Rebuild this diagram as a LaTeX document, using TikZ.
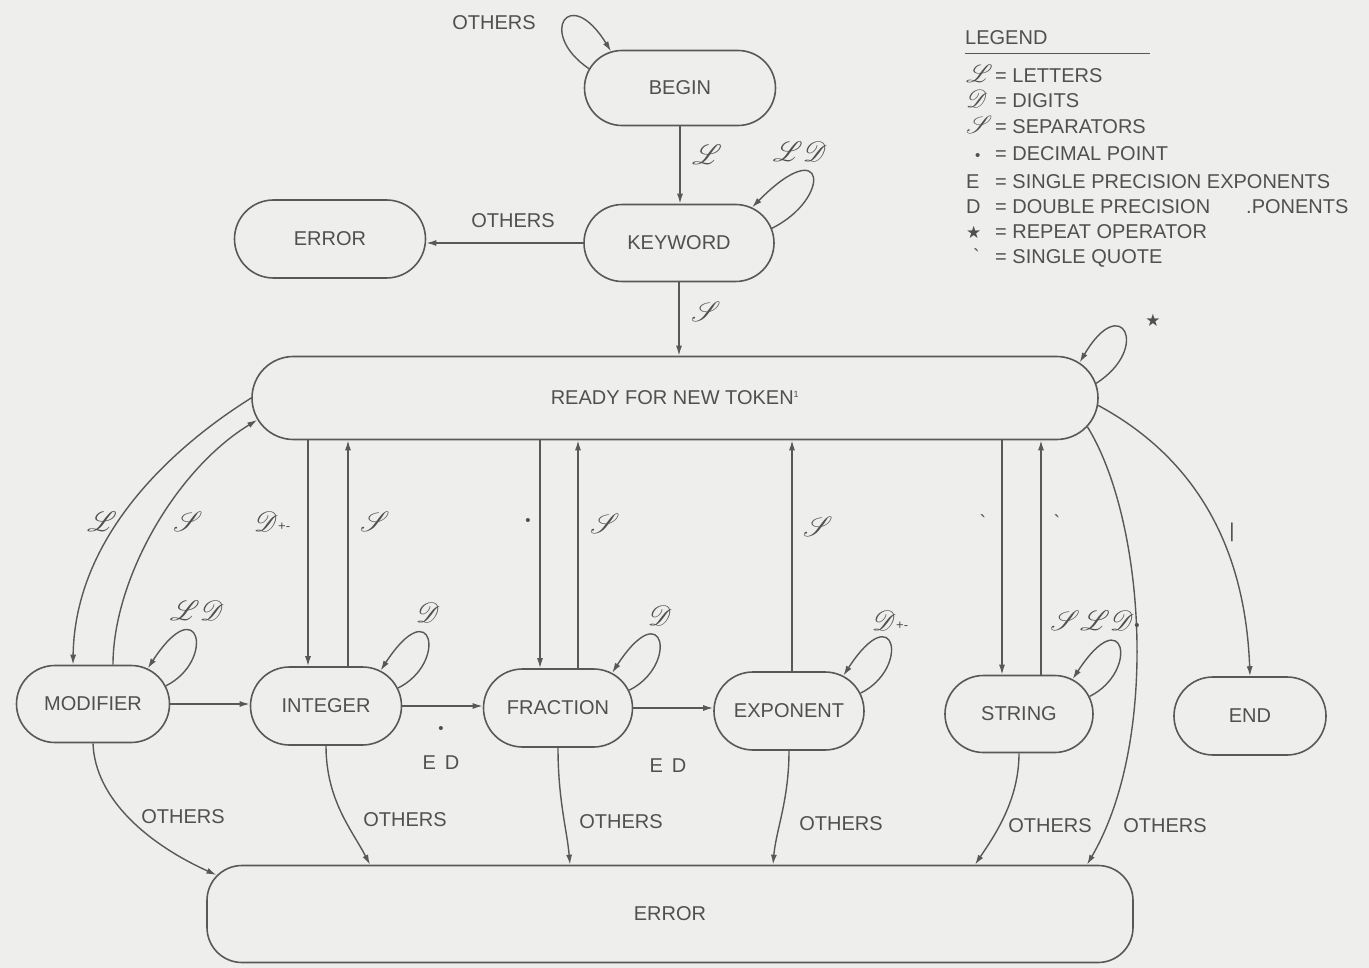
\documentclass[tikz,border=0pt]{standalone}
\usepackage{fontspec}
\setmainfont{Liberation Sans}
\newfontfamily\djv{DejaVu Sans}
\usepackage{mathrsfs}
\usepackage{graphicx}
\usetikzlibrary{shapes.misc,arrows.meta,calc}
\definecolor{bg}{HTML}{EEEEEC}
\definecolor{ink}{HTML}{585858}
\definecolor{txt}{HTML}{505050}
\newcommand\lbl{\fontsize{20}{24}\selectfont}
\newcommand\scrL{\scalebox{1.35}{$\mathscr{L}$}}
\newcommand\scrD{\scalebox{1.35}{$\mathscr{D}$}}
\newcommand\scrS{\scalebox{1.35}{$\mathscr{S}$}}
\newcommand\lgs[1]{\smash{\scalebox{1.2}{$\mathscr{#1}$}}}
\newcommand\plmi{\raisebox{1pt}{\fontsize{13}{13}\selectfont +-}}
\newcommand\dotb{{\fontsize{15}{15}\selectfont\textbullet}}
\begin{document}
\begin{tikzpicture}[x=1pt,y=-1pt,
  st/.style={rounded rectangle, draw=ink, line width=1.6pt, minimum height=77pt, inner sep=2pt, text=txt, font=\lbl},
  edge/.style={draw=ink, line width=1.4pt, -{Latex[length=10pt,width=6pt]}},
  lab/.style={text=txt, font=\lbl, inner sep=1pt},
  lgitem/.style={lab, anchor=west, inner sep=0pt},
]
\fill[bg] (0,0) rectangle (1369,968);
\useasboundingbox (0,0) rectangle (1369,968);

% states
\node[st, minimum width=195pt, minimum height=75pt] (begin) at (680,88) {BEGIN};
\node[st, minimum width=194pt] (keyword) at (679,243) {KEYWORD};
\node[st, minimum width=195pt, minimum height=78pt] (err1) at (330,239) {ERROR};
\node[st, minimum width=850pt, minimum height=83pt] (ready) at (675,398) {READY FOR NEW TOKEN\textsuperscript{\fontsize{9}{9}\selectfont 1}};
\node[st, minimum width=157pt] (modifier) at (93,704) {MODIFIER};
\node[st, minimum width=155pt, minimum height=78pt] (integer) at (326,706) {INTEGER};
\node[st, minimum width=153pt, minimum height=78pt] (fraction) at (558,708) {FRACTION};
\node[st, minimum width=154pt, minimum height=78pt] (exponent) at (789,711) {EXPONENT};
\node[st, minimum width=152pt] (string) at (1019,714) {STRING};
\node[st, minimum width=156pt, minimum height=78pt] (end) at (1250,716) {END};
\node[draw=ink, line width=1.6pt, rectangle, rounded corners=35pt, minimum width=926pt, minimum height=97pt, text=txt, font=\lbl] (err2) at (670,914) {ERROR};

% top part
\draw[edge] (begin.south) -- (begin.south |- keyword.north);
\draw[edge] (keyword.west) -- (keyword.west -| err1.east);
\draw[edge] (keyword.south) -- (keyword.south |- ready.north);
\draw[edge] (begin.168) .. controls +(-52,-35) and +(-42,-68) .. (begin.152);
\draw[edge] (keyword.9) .. controls +(60,-30) and +(75,-76) .. (keyword.26);
\draw[edge] (ready.2) .. controls +(55,-35) and +(42,-72) .. (ready.5);

% ready <-> states
\draw[edge] (ready.west) .. controls (200,430) and (75,520) .. ([xshift=-20pt]modifier.north);
\draw[edge] ([xshift=20pt]modifier.north) .. controls (113,580) and (175,470) .. (ready.183.7);
\draw[edge] (308,0 |- ready.south) -- (308,0 |- integer.north);
\draw[edge] (348,0 |- integer.north) -- (348,0 |- ready.south);
\draw[edge] (540,0 |- ready.south) -- (540,0 |- fraction.north);
\draw[edge] (578,0 |- fraction.north) -- (578,0 |- ready.south);
\draw[edge] (792,0 |- exponent.north) -- (792,0 |- ready.south);
\draw[edge] (1002,0 |- ready.south) -- (1002,0 |- string.north);
\draw[edge] (1041,0 |- string.north) -- (1041,0 |- ready.south);
\draw[edge] (ready.-1) .. controls (1190,455) and (1245,540) .. (end.north);
\draw[edge] (ready.-4.4) .. controls (1145,520) and (1160,740) .. (1087,0 |- err2.north);

% self loops on lower states
\draw[edge] (modifier.14) .. controls +(50,-25) and +(52,-80) .. (modifier.33);
\draw[edge] (integer.14) .. controls +(50,-25) and +(52,-80) .. (integer.33);
\draw[edge] (fraction.14) .. controls +(50,-25) and +(52,-80) .. (fraction.33);
\draw[edge] (exponent.14) .. controls +(50,-25) and +(52,-80) .. (exponent.33);
\draw[edge] (string.14) .. controls +(50,-25) and +(52,-80) .. (string.33);

% horizontal chain
\draw[edge] (modifier.east) -- (modifier.east -| integer.west);
\draw[edge] (integer.east) -- (integer.east -| fraction.west);
\draw[edge] (fraction.east) -- (fraction.east -| exponent.west);

% to error
\draw[edge] (modifier.south) .. controls (95,800) and (150,845) .. ($(err2.north west)+(10.3,10.3)$);
\draw[edge] (integer.south) .. controls (326,800) and (352,830) .. (370,0 |- err2.north);
\draw[edge] (fraction.south) .. controls (558,800) and (567,830) .. (570,0 |- err2.north);
\draw[edge] (exponent.south) .. controls (789,800) and (776,830) .. (773,0 |- err2.north);
\draw[edge] (string.south) .. controls (1019,800) and (995,835) .. (975,0 |- err2.north);

% labels
\node[lab] (lbA) at (494,23) {OTHERS};
\node[lab] (lbB) at (707,155) {\scrL};
\node[lab] (lbC) at (800,152) {\scrL\scrD};
\node[lab] (lbD) at (513,221) {OTHERS};
\node[lab] (lbE) at (706,312) {\scrS};
\node[lab] (lbF) at (1153,320) {\djv\fontsize{17}{17}\selectfont ★};
\node[lab] (lbG) at (102,522) {\scrL};
\node[lab] (lbH) at (188,522) {\scrS};
\node[lab] (lbI) at (272,522) {\scrD\plmi};
\node[lab] (lbJ) at (375,522) {\scrS};
\node[lab] (lbK) at (528,522) {\dotb};
\node[lab] (lbL) at (605,524) {\scrS};
\node[lab] (lbM) at (818,527) {\scrS};
\node[lab] (lbN) at (983,522) {\textasciigrave};
\node[lab] (lbO) at (1057,522) {\textasciigrave};
\node[lab] (lbP) at (1232,532) {|};
\node[lab] (lbQ) at (197,611) {\scrL\scrD};
\node[lab] (lbR) at (428,613) {\scrD};
\node[lab] (lbS) at (660,616) {\scrD};
\node[lab] (lbT) at (890,621) {\scrD\plmi};
\node[lab] (lbU) at (1095,621) {\scrS\scrL\scrD\dotb};
\node[lab] (lbV) at (441,730) {\dotb};
\node[lab] (lbW) at (441,763) {E\hspace{9pt}D};
\node[lab] (lbX) at (668,766) {E\hspace{9pt}D};
\node[lab] (lbY) at (183,817) {OTHERS};
\node[lab] (lbZ) at (405,820) {OTHERS};
\node[lab] (lba) at (621,822) {OTHERS};
\node[lab] (lbb) at (841,824) {OTHERS};
\node[lab] (lbc) at (1050,826) {OTHERS};
\node[lab] (lbd) at (1165,826) {OTHERS};

% legend
\node[lgitem] (lg) at (965,38) {LEGEND};
\draw[ink, line width=0.8pt] (965,53) -- (1150,53);
\node[lgitem] (lg1) at (966,76) {\makebox[29pt][l]{\lgs{L}}= LETTERS};
\node[lgitem] (lg2) at (966,101) {\makebox[29pt][l]{\lgs{D}}= DIGITS};
\node[lgitem] (lg3) at (966,127) {\makebox[29pt][l]{\lgs{S}}= SEPARATORS};
\node[lgitem] (lg4) at (966,154) {\makebox[29pt][l]{\hspace{9pt}\dotb}= DECIMAL POINT};
\node[lgitem] (lg5) at (966,182) {\makebox[29pt][l]{E}= SINGLE PRECISION EXPONENTS};
\node[lgitem] (lg6) at (966,207) {\makebox[29pt][l]{D}= DOUBLE PRECISION\hspace{36pt}.PONENTS};
\node[lgitem] (lg7) at (966,232) {\makebox[29pt][l]{\djv\fontsize{17}{17}\selectfont ★}= REPEAT OPERATOR};
\node[lgitem] (lg8) at (966,258) {\makebox[29pt][l]{\hspace{7pt}\textasciigrave}= SINGLE QUOTE};
\end{tikzpicture}
\end{document}
